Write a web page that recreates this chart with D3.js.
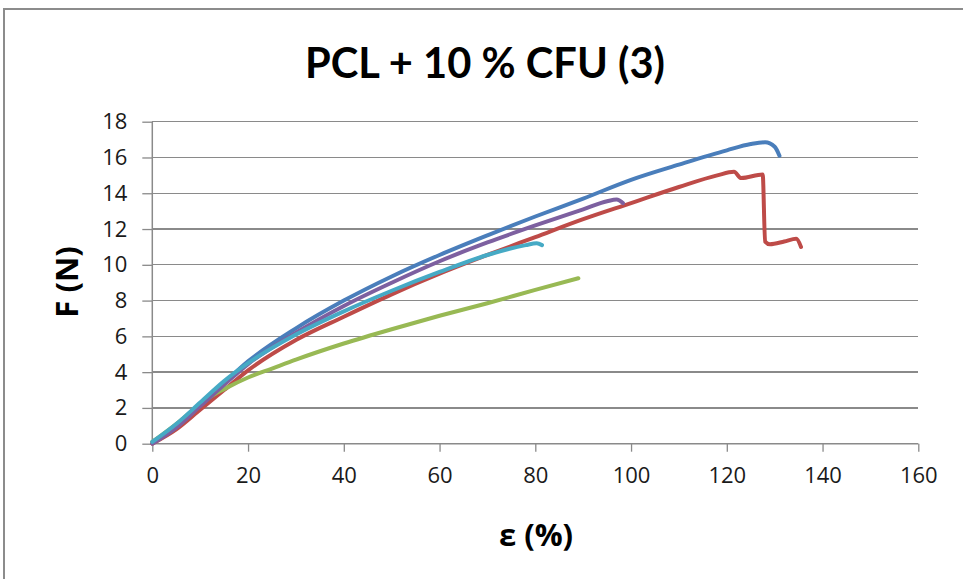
<!DOCTYPE html>
<html><head><meta charset="utf-8">
<script src="https://cdn.jsdelivr.net/npm/d3@7"></script>
<style>body{margin:0;background:#fff;} svg{display:block;}</style>
</head><body>
<svg id="c" width="963" height="579"></svg>
<script>
const title = "PCL + 10 % CFU (3)";
const xLabel = "ε (%)";
const yLabel = "F (N)";
const xTicks = [0,20,40,60,80,100,120,140,160];
const yTicks = [0,2,4,6,8,10,12,14,16,18];
const blue = [[0,0.1],[5,1.0],[10,2.2],[15,3.4],[20,4.6],[30,6.45],[40,8.0],[50,9.35],[60,10.55],[70,11.65],[80,12.7],[90,13.7],[100,14.75],[110,15.6],[120,16.4],[125,16.75],[128,16.85],[130,16.6],[131,16.1]];
const red = [[0,0],[5,0.8],[10,1.9],[15,3.0],[20,4.1],[30,5.8],[40,7.1],[50,8.35],[60,9.5],[70,10.55],[80,11.55],[90,12.55],[100,13.45],[110,14.35],[118,15.0],[121.5,15.2],[123,14.85],[127.5,15.05],[128,11.3],[129,11.15],[132,11.3],[134.5,11.45],[135.5,11.0]];
const purple = [[0,0],[5,0.9],[10,2.1],[15,3.3],[20,4.45],[30,6.2],[40,7.7],[50,9.0],[60,10.2],[70,11.25],[80,12.2],[90,13.1],[95,13.55],[97,13.65],[98.3,13.45]];
const cyan = [[0,0.1],[5,1.1],[10,2.3],[15,3.5],[20,4.5],[30,6.1],[40,7.4],[50,8.55],[60,9.6],[70,10.55],[78,11.1],[80.3,11.2],[81.4,11.1]];
const green = [[0,0.1],[5,1.1],[10,2.2],[12,2.6],[15,3.05],[20,3.7],[25,4.2],[30,4.7],[40,5.6],[50,6.4],[60,7.15],[70,7.85],[80,8.6],[89,9.25]];
const seriesList = [
  {data: blue, color: "#4A7EBB"},
  {data: red, color: "#BE4B48"},
  {data: green, color: "#98B954"},
  {data: purple, color: "#7D60A0"},
  {data: cyan, color: "#46AAC5"}
];

const svg = d3.select("#c");
const x = d3.scaleLinear().domain([0,160]).range([152.3,918.3]);
const y = d3.scaleLinear().domain([0,18]).range([443.7,121.7]);

svg.append("rect").attr("x",4).attr("y",9).attr("width",970).attr("height",590)
  .attr("fill","#fff").attr("stroke","#8c8c8c").attr("stroke-width",2);

// gridlines
svg.append("g").selectAll("line").data(yTicks.slice(1)).join("line")
  .attr("x1",x(0)).attr("x2",x(160)).attr("y1",d=>y(d)).attr("y2",d=>y(d))
  .attr("stroke","#8a8a8a").attr("stroke-width",1.3).attr("shape-rendering","crispEdges");

const fontTick = "'Open Sans', 'DejaVu Sans', sans-serif";
// y axis
const ya = svg.append("g").attr("transform",`translate(${x(0)},0)`)
  .call(d3.axisLeft(y).tickValues(yTicks).tickSize(10).tickPadding(15).tickFormat(d3.format("d")));
ya.select(".domain").attr("stroke","#8a8a8a").attr("stroke-width",1.5).attr("d",`M0,${y(0)}V${y(18)}`);
ya.selectAll(".tick line").attr("stroke","#8a8a8a").attr("stroke-width",1.3);
ya.selectAll(".tick text").attr("font-family",fontTick).attr("font-size",22).attr("fill","#1a1a1a");

// x axis
const xa = svg.append("g").attr("transform",`translate(0,${y(0)})`)
  .call(d3.axisBottom(x).tickValues(xTicks).tickSize(8).tickPadding(16).tickFormat(d3.format("d")));
xa.select(".domain").attr("stroke","#8a8a8a").attr("stroke-width",1.5).attr("d",`M${x(0)},0H${x(160)}`);
xa.selectAll(".tick line").attr("stroke","#8a8a8a").attr("stroke-width",1.3);
xa.selectAll(".tick text").attr("font-family",fontTick).attr("font-size",22).attr("fill","#1a1a1a");

const line = d3.line().x(d=>x(d[0])).y(d=>y(d[1])).curve(d3.curveMonotoneX);
svg.append("g").selectAll("path").data(seriesList).join("path")
  .attr("d",d=>line(d.data)).attr("fill","none").attr("stroke",d=>d.color)
  .attr("stroke-width",4).attr("stroke-linecap","round").attr("stroke-linejoin","round");

svg.append("text").attr("x",485).attr("y",78).attr("text-anchor","middle")
  .attr("font-family","Lato, 'Open Sans', sans-serif").attr("font-weight","bold").attr("font-size",42)
  .attr("textLength",360).attr("lengthAdjust","spacingAndGlyphs")
  .attr("fill","#000").text(title);
svg.append("text").attr("x",536).attr("y",546).attr("text-anchor","middle")
  .attr("font-family","'Open Sans', sans-serif").attr("font-weight","bold").attr("font-size",31)
  .attr("fill","#000").text(xLabel);
svg.append("text").attr("transform","translate(78,282) rotate(-90)").attr("text-anchor","middle")
  .attr("font-family","'Open Sans', sans-serif").attr("font-weight","bold").attr("font-size",31)
  .attr("fill","#000").text(yLabel);
</script>
</body></html>
